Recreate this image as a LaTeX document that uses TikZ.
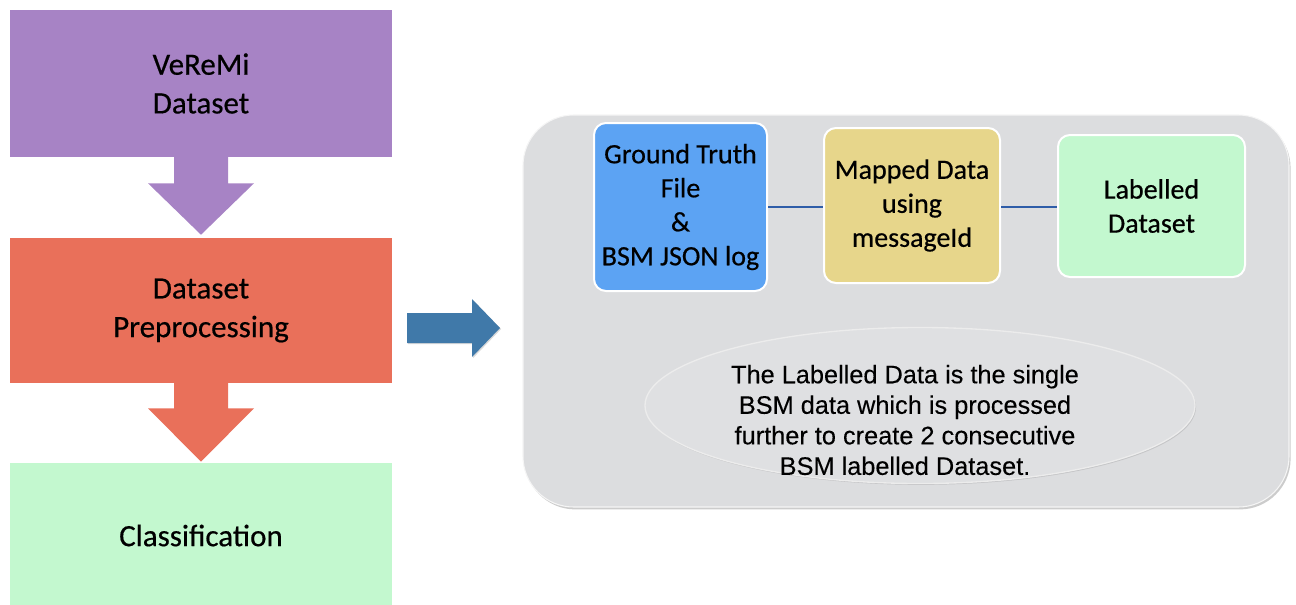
\documentclass[tikz,border=0pt]{standalone}
\usepackage{fontspec}
\setmainfont{Carlito}
\newfontfamily\boxfont[FakeBold=0.5]{Carlito}
\newfontfamily\notefont[FakeBold=0.2]{Liberation Sans}
\usetikzlibrary{shadows,calc,shapes.geometric}
\definecolor{purp}{HTML}{A783C5}
\definecolor{orng}{HTML}{E9705A}
\definecolor{lgreen}{HTML}{C3F8CF}
\definecolor{gtblue}{HTML}{5CA3F3}
\definecolor{mapyel}{HTML}{E7D68B}
\definecolor{arrblue}{HTML}{4079A9}
\definecolor{panelgray}{HTML}{DCDDDF}
\definecolor{connblue}{HTML}{2F5DA8}
\tikzset{
  leftbox/.style={draw=none, inner sep=0pt, minimum width=286.5pt, minimum height=108.75pt,
    align=center, font=\boxfont\fontsize{23.25pt}{29pt}\selectfont},
  smallbox/.style={draw=white, line width=1.5pt, rounded corners=9pt, inner sep=0pt,
    align=center, font=\boxfont\fontsize{21pt}{25.5pt}\selectfont},
  panelbox/.style={fill=panelgray, draw=white!92!gray, line width=0.8pt, rounded corners=38pt,
    inner sep=0pt, minimum width=574.5pt, minimum height=294pt,
    drop shadow={opacity=0.4, shadow xshift=1.2pt, shadow yshift=-1.8pt}},
  notebox/.style={ellipse, fill=panelgray!90!white, draw=white!85!gray, line width=1pt,
    inner sep=0pt, minimum width=412.5pt, minimum height=117pt,
    drop shadow={opacity=0.25, shadow xshift=0.8pt, shadow yshift=-1pt}},
  notetxt/.style={align=center, inner sep=0pt, font=\notefont\fontsize{19pt}{22.9pt}\selectfont},
  conn/.style={draw=connblue, line width=1.8pt},
}
\begin{document}
\begin{tikzpicture}[x=0.75pt,y=-0.75pt]
\useasboundingbox (0,0) rectangle (1296,604);
\clip (0,0) rectangle (1296,604);
% left column
\node[leftbox, fill=purp, minimum height=110.25pt] (veremi) at (201,83.5) {VeReMi\\Dataset};
\node[leftbox, fill=orng] (preproc) at (201,310.5) {Dataset\\Preprocessing};
\node[leftbox, fill=lgreen] (classif) at (201,535.5) {Classification};
% down arrows
\fill[purp] ($(veremi.south)+(-27,-1)$) -- ($(veremi.south)+(27,-1)$) -- ($(veremi.south)+(27,26)$)
  -- ($(veremi.south)+(53,26)$) -- ($(preproc.north)+(0,-3)$) -- ($(veremi.south)+(-53,26)$)
  -- ($(veremi.south)+(-27,26)$) -- cycle;
\fill[orng] ($(preproc.south)+(-27,-1)$) -- ($(preproc.south)+(27,-1)$) -- ($(preproc.south)+(27,25)$)
  -- ($(preproc.south)+(53,25)$) -- ($(classif.north)+(0,-1)$) -- ($(preproc.south)+(-53,25)$)
  -- ($(preproc.south)+(-27,25)$) -- cycle;
% blue arrow
\fill[arrblue, drop shadow={opacity=0.3, shadow xshift=0.8pt, shadow yshift=-0.8pt}]
  (407,313) -- (472,313) -- (472,299) -- (500,328) -- (472,357) -- (472,343) -- (407,343) -- cycle;
% panel
\node[panelbox] (panel) at (906,311) {};
\node[smallbox, fill=gtblue, minimum width=129.75pt, minimum height=126pt] (gt) at (680.5,207)
  {Ground Truth\\File\\\&\\BSM JSON log};
\node[smallbox, fill=mapyel, minimum width=132pt, minimum height=116.25pt] (mapped) at (912,205.5)
  {Mapped Data\\using\\messageId};
\node[smallbox, fill=lgreen, minimum width=140.25pt, minimum height=106.5pt] (lab) at (1151.5,206)
  {Labelled\\Dataset};
\draw[conn] (gt.east) -- (gt.east -| mapped.west);
\draw[conn] (gt.east -| mapped.east) -- (gt.east -| lab.west);
% note
\node[notebox] (note) at (920,405.5) {};
\node[notetxt] (notetext) at (905,420) {The Labelled Data is the single\\BSM data which is processed\\further to create 2 consecutive\\BSM labelled Dataset.};
\end{tikzpicture}
\end{document}
